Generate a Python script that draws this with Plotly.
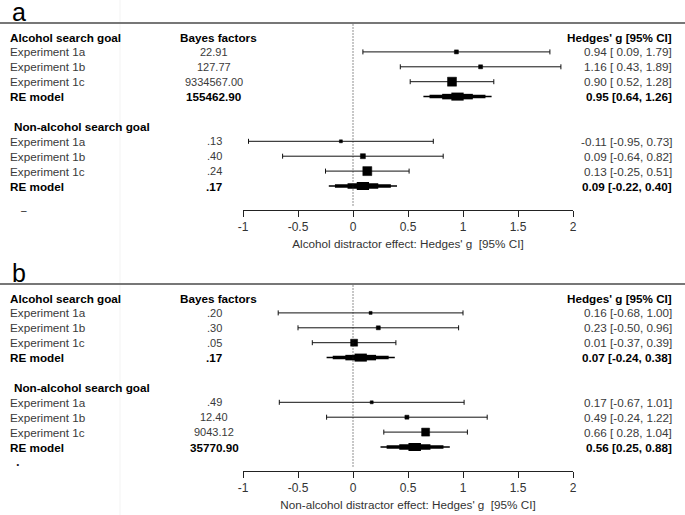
import plotly.graph_objects as go

W, H = 685, 515

# ---------------- data ----------------
experiments = ["Experiment 1a", "Experiment 1b", "Experiment 1c"]
re_label = "RE model"
group_names = ["Alcohol search goal", "Non-alcohol search goal"]
panel_letters = ["a", "b"]
x_titles = ["Alcohol distractor effect: Hedges' g\u00a0 [95% CI]",
            "Non-alcohol distractor effect: Hedges' g\u00a0 [95% CI]"]
bf_header = "Bayes factors"
g_header = "Hedges' g [95% CI]"
tick_vals = [-1, -0.5, 0, 0.5, 1, 1.5, 2]
tick_text = ["-1", "-0.5", "0", "0.5", "1", "1.5", "2"]

# Panel a
a_alc_g = [0.94, 1.16, 0.90]
a_alc_lo = [0.09, 0.43, 0.52]
a_alc_hi = [1.79, 1.89, 1.28]
a_alc_bf = [22.91, 127.77, 9334567.00]
a_alc_re = [0.95, 0.64, 1.26]      # estimate, lower, upper
a_alc_re_bf = 155462.90
a_non_g = [-0.11, 0.09, 0.13]
a_non_lo = [-0.95, -0.64, -0.25]
a_non_hi = [0.73, 0.82, 0.51]
a_non_bf = [0.13, 0.40, 0.24]
a_non_re = [0.09, -0.22, 0.40]
a_non_re_bf = 0.17

# Panel b
b_alc_g = [0.16, 0.23, 0.01]
b_alc_lo = [-0.68, -0.50, -0.37]
b_alc_hi = [1.00, 0.96, 0.39]
b_alc_bf = [0.20, 0.30, 0.05]
b_alc_re = [0.07, -0.24, 0.38]
b_alc_re_bf = 0.17
b_non_g = [0.17, 0.49, 0.66]
b_non_lo = [-0.67, -0.24, 0.28]
b_non_hi = [1.01, 1.22, 1.04]
b_non_bf = [0.49, 12.40, 9043.12]
b_non_re = [0.56, 0.25, 0.88]
b_non_re_bf = 35770.90

# marker sizes (study weights, style)
sizes = {
    (0, 0): [4, 4, 9], (0, 1): [3, 5, 9],
    (1, 0): [3, 4, 7], (1, 1): [3, 4, 8],
}

panels = [
    [(a_alc_g, a_alc_lo, a_alc_hi, a_alc_bf, a_alc_re, a_alc_re_bf),
     (a_non_g, a_non_lo, a_non_hi, a_non_bf, a_non_re, a_non_re_bf)],
    [(b_alc_g, b_alc_lo, b_alc_hi, b_alc_bf, b_alc_re, b_alc_re_bf),
     (b_non_g, b_non_lo, b_non_hi, b_non_bf, b_non_re, b_non_re_bf)],
]

# ---------------- layout geometry (pixels) ----------------
ROW_PX = 14.9
top_line_px = [23, 284]
first_row_px = [37, 298]
axis_px = [210, 471]
X0_PX, X1_PX = 243, 573
LEFT_X = 8 / W
BF_X = 214 / W
BF_HEAD_X = 218 / W
G_X = 674 / W
FS = 11.7
FONT = "Liberation Sans, Arial, sans-serif"
TXT = "#3a3a3a"
BLK = "#000000"


def fmt_bf(v):
    s = f"{v:.2f}"
    if v < 1:
        s = s[1:]
    return s


def fmt_g(g, lo, hi, pad=True):
    if pad:
        return f"{g:.2f} [{lo:5.2f}, {hi:.2f}]".replace("[ ", "[\u00a0")
    return f"{g:.2f} [{lo:.2f}, {hi:.2f}]"


fig = go.Figure()
annotations = []
shapes = []
layout_axes = {}

for p in range(2):
    xa = "x" if p == 0 else "x2"
    ya = "y" if p == 0 else "y2"
    r_top = (top_line_px[p] - first_row_px[p]) / ROW_PX
    r_bot = (axis_px[p] - first_row_px[p]) / ROW_PX

    for k in range(2):
        g, lo, hi, bf, re, re_bf = panels[p][k]
        base = k * 6
        rows = [base + 1, base + 2, base + 3]
        re_row = base + 4

        fig.add_trace(go.Scatter(
            x=g, y=rows, mode="markers", xaxis=xa, yaxis=ya, showlegend=False,
            marker=dict(symbol="square", size=sizes[(p, k)], color=BLK, opacity=1,
                        line=dict(width=0.5, color=BLK)),
            error_x=dict(type="data", symmetric=False,
                         array=[h - e for h, e in zip(hi, g)],
                         arrayminus=[e - l for e, l in zip(g, lo)],
                         thickness=1, width=2.5, color="#111111"),
        ))
        est, rlo, rhi = re
        for f, w in [(1.0, 1.5), (0.82, 3.5), (0.45, 5.5), (0.18, 8)]:
            fig.add_trace(go.Scatter(
                x=[est - f * (est - rlo), est + f * (rhi - est)], y=[re_row, re_row],
                mode="lines", line=dict(color=BLK, width=w), xaxis=xa, yaxis=ya,
                showlegend=False, hoverinfo="skip"))

        # texts
        annotations.append(dict(x=(LEFT_X if k == 0 else 12 / W), y=base, xref="paper", yref=ya,
                                text=f"<b>{group_names[k]}</b>", showarrow=False,
                                xanchor="left", yanchor="middle",
                                font=dict(size=FS, color=BLK, family=FONT)))
        if k == 0:
            annotations.append(dict(x=BF_HEAD_X, y=base, xref="paper", yref=ya,
                                    text=f"<b>{bf_header}</b>", showarrow=False,
                                    xanchor="center", yanchor="middle",
                                    font=dict(size=FS, color=BLK, family=FONT)))
            annotations.append(dict(x=G_X, y=base, xref="paper", yref=ya,
                                    text=f"<b>{g_header}</b>", showarrow=False,
                                    xanchor="right", yanchor="middle",
                                    font=dict(size=FS, color=BLK, family=FONT)))
        for i in range(3):
            annotations.append(dict(x=LEFT_X, y=rows[i], xref="paper", yref=ya,
                                    text=experiments[i], showarrow=False,
                                    xanchor="left", yanchor="middle",
                                    font=dict(size=FS, color=TXT, family=FONT)))
            annotations.append(dict(x=BF_X, y=rows[i], xref="paper", yref=ya,
                                    text=fmt_bf(bf[i]), showarrow=False,
                                    xanchor="center", yanchor="middle",
                                    font=dict(size=FS - 0.7, color=TXT, family=FONT)))
            annotations.append(dict(x=G_X, y=rows[i], xref="paper", yref=ya,
                                    text=fmt_g(g[i], lo[i], hi[i]), showarrow=False,
                                    xanchor="right", yanchor="middle",
                                    font=dict(size=FS, color=TXT, family=FONT)))
        annotations.append(dict(x=LEFT_X, y=re_row, xref="paper", yref=ya,
                                text=f"<b>{re_label}</b>", showarrow=False,
                                xanchor="left", yanchor="middle",
                                font=dict(size=FS, color=BLK, family=FONT)))
        annotations.append(dict(x=BF_X, y=re_row, xref="paper", yref=ya,
                                text=f"<b>{fmt_bf(re_bf)}</b>", showarrow=False,
                                xanchor="center", yanchor="middle",
                                font=dict(size=FS, color=BLK, family=FONT)))
        annotations.append(dict(x=G_X, y=re_row, xref="paper", yref=ya,
                                text=f"<b>{fmt_g(est, rlo, rhi, pad=False)}</b>", showarrow=False,
                                xanchor="right", yanchor="middle",
                                font=dict(size=FS, color=BLK, family=FONT)))

    # panel letter
    annotations.append(dict(x=10 / W, y=1 - (top_line_px[p] - 11) / H, xref="paper", yref="paper",
                            text=panel_letters[p], showarrow=False, xanchor="left", yanchor="middle",
                            font=dict(size=25, color=BLK, family=FONT)))
    # stray marks
    annotations.append(dict(x=(24 if p == 0 else 18) / W, y=r_bot, xref="paper", yref=ya,
                            text=("\u2013" if p == 0 else "<b>.</b>"), showarrow=False,
                            xanchor="center", yanchor=("middle" if p == 0 else "bottom"),
                            font=dict(size=10 if p == 0 else 13, color="#222", family=FONT)))

    # top gray rule
    shapes.append(dict(type="line", xref="paper", yref="paper", x0=0, x1=1,
                       y0=1 - top_line_px[p] / H, y1=1 - top_line_px[p] / H,
                       line=dict(color="#777777", width=2)))
    # dotted zero line
    shapes.append(dict(type="line", xref=xa, yref=ya, x0=0, x1=0,
                       y0=r_top + 0.1, y1=r_bot - 0.25,
                       line=dict(color="#222222", width=1, dash="1px,2px")))

    ax_key = "xaxis" if p == 0 else "xaxis2"
    ay_key = "yaxis" if p == 0 else "yaxis2"
    layout_axes[ax_key] = dict(
        domain=[X0_PX / W, X1_PX / W], range=[-1, 2], anchor=ya, automargin=False,
        showline=True, linecolor="#222222", linewidth=1, mirror=False,
        ticks="outside", ticklen=6, tickwidth=1, tickcolor="#222222",
        tickvals=tick_vals, ticktext=tick_text, showgrid=False, zeroline=False,
        tickfont=dict(size=12, color="#333333", family=FONT),
        title=dict(text=x_titles[p], font=dict(size=FS, color="#333333", family=FONT),
                   standoff=6),
    )
    layout_axes[ay_key] = dict(
        domain=[1 - axis_px[p] / H, 1 - top_line_px[p] / H], range=[r_bot, r_top],
        anchor=xa, visible=False, showgrid=False, zeroline=False, automargin=False,
    )

# faint vertical guide
shapes.append(dict(type="line", xref="paper", yref="paper", x0=120 / W, x1=120 / W, y0=0, y1=1,
                   line=dict(color="#f3f3f3", width=1), layer="below"))

fig.update_layout(
    width=W, height=H, margin=dict(l=0, r=0, t=0, b=0, pad=0),
    paper_bgcolor="white", plot_bgcolor="white",
    annotations=annotations, shapes=shapes, showlegend=False,
    font=dict(family=FONT), **layout_axes,
)

fig.write_html("out.html", config={"displayModeBar": False},
               post_script="document.body.style.margin='0';document.body.style.overflow='hidden';")
